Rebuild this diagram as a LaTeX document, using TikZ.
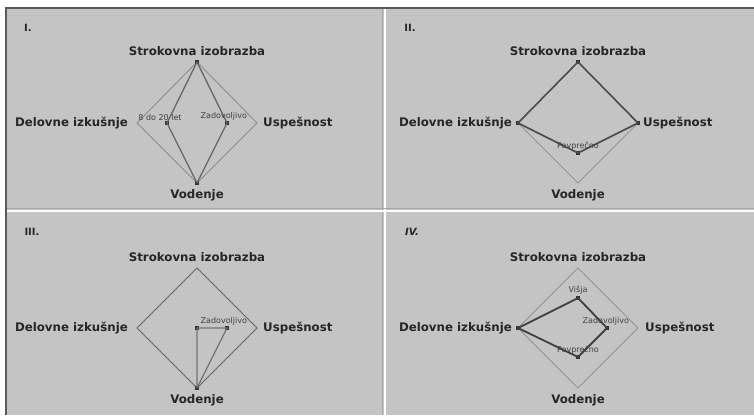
\documentclass[tikz,border=0pt]{standalone}
\usepackage{fontspec}
\setmainfont{DejaVu Sans}
\begin{document}
\begin{tikzpicture}[x=1pt,y=-1pt,
  axislab/.style={font=\fontsize{11.8}{13}\selectfont\bfseries, text=black!85, inner sep=1pt},
  panellab/.style={font=\fontsize{10}{11}\selectfont\bfseries, text=black!85, inner sep=0pt},
  vallab/.style={font=\fontsize{8}{9}\selectfont, text=black!75, inner sep=0.5pt},
  outerline/.style={draw=black!45, line width=0.9pt},
  outerdark/.style={draw=black!60, line width=0.8pt},
  dataline/.style={draw=black!70, line width=1.6pt, line join=round},
  gridline/.style={draw=black!25, line width=0.5pt, dotted},
  datapt/.style={fill=black!80, minimum size=3.5pt, inner sep=0pt, draw=none, rectangle}
]
% background and frame
\useasboundingbox (0,0) rectangle (754,415);
\fill[white] (0,0) rectangle (754,415);
\fill[black!23] (6,8) rectangle (754,415);
\draw[black!65, line width=1.2pt] (6,415) -- (6,8) -- (754,8);
\draw[white, line width=1.5pt] (385,9) -- (385,415);
\draw[black!35, line width=0.6pt] (382,9) -- (382,415);
\draw[white, line width=1.5pt] (7,211) -- (754,211);
\draw[black!35, line width=0.6pt] (7,208) -- (754,208);

% ---------------- Panel I ----------------
\node[panellab] (pI) at (28,28) {I.};
\coordinate (aT) at (197,62);
\coordinate (aB) at (197,183);
\coordinate (aL) at (137,123);
\coordinate (aR) at (257,123);
\draw[gridline] (aL) -- (aR) (aT) -- (aB);
\draw[outerline] (aT) -- (aR) -- (aB) -- (aL) -- cycle;
\node[datapt] (aPT) at (197,62) {};
\node[datapt] (aPR) at (227,123) {};
\node[datapt] (aPB) at (197,183) {};
\node[datapt] (aPL) at (167,123) {};
\draw[dataline, draw=black!60, line width=1.3pt] (aPT.center) -- (aPR.center) -- (aPB.center) -- (aPL.center) -- cycle;
\node[axislab, anchor=south] (aST) at (197,57) {Strokovna izobrazba};
\node[axislab, anchor=north] (aSB) at (197,188) {Vodenje};
\node[axislab, anchor=east] (aSL) at (129,123) {Delovne izkušnje};
\node[axislab, anchor=west] (aSR) at (262,123) {Uspešnost};
\node[vallab, anchor=south] (aVL) at (160,121) {8 do 20 let};
\node[vallab, anchor=south west] (aVR) at (200,121) {Zadovoljivo};

% ---------------- Panel II ----------------
\node[panellab] (pII) at (410,28) {II.};
\coordinate (bT) at (578,62);
\coordinate (bB) at (578,183);
\coordinate (bL) at (518,123);
\coordinate (bR) at (638,123);
\draw[gridline] (bL) -- (bR) (bT) -- (bB);
\draw[outerline, draw=black!42] (bT) -- (bR) -- (bB) -- (bL) -- cycle;
\node[datapt] (bPT) at (578,62) {};
\node[datapt] (bPR) at (638,123) {};
\node[datapt] (bPB) at (578,153) {};
\node[datapt] (bPL) at (518,123) {};
\draw[dataline] (bPT.center) -- (bPR.center) -- (bPB.center) -- (bPL.center) -- cycle;
\node[axislab, anchor=south] (bST) at (578,57) {Strokovna izobrazba};
\node[axislab, anchor=north] (bSB) at (578,188) {Vodenje};
\node[axislab, anchor=east] (bSL) at (513,123) {Delovne izkušnje};
\node[axislab, anchor=west] (bSR) at (642,123) {Uspešnost};
\node[vallab, anchor=south] (bVB) at (578,151) {Povprečno};

% ---------------- Panel III ----------------
\node[panellab] (pIII) at (32,232) {III.};
\coordinate (cT) at (197,268);
\coordinate (cB) at (197,388);
\coordinate (cL) at (137,328);
\coordinate (cR) at (257,328);
\draw[gridline] (cL) -- (cR) (cT) -- (cB);
\draw[outerdark] (cT) -- (cR) -- (cB) -- (cL) -- cycle;
\node[datapt] (cPC) at (197,328) {};
\node[datapt] (cPR) at (227,328) {};
\node[datapt] (cPB) at (197,388) {};
\draw[dataline, draw=black!55, line width=1.2pt] (cPC.center) -- (cPR.center) -- (cPB.center) -- cycle;
\node[axislab, anchor=south] (cST) at (197,263) {Strokovna izobrazba};
\node[axislab, anchor=north] (cSB) at (197,393) {Vodenje};
\node[axislab, anchor=east] (cSL) at (129,328) {Delovne izkušnje};
\node[axislab, anchor=west] (cSR) at (262,328) {Uspešnost};
\node[vallab, anchor=south west] (cVR) at (200,326) {Zadovoljivo};

% ---------------- Panel IV ----------------
\node[panellab, font=\fontsize{10}{11}\selectfont\bfseries\itshape] (pIV) at (412,232) {IV.};
\coordinate (dT) at (578,268);
\coordinate (dB) at (578,388);
\coordinate (dL) at (518,328);
\coordinate (dR) at (638,328);
\draw[gridline] (dL) -- (dR) (dT) -- (dB);
\draw[outerline, draw=black!42] (dT) -- (dR) -- (dB) -- (dL) -- cycle;
\node[datapt] (dPT) at (578,298) {};
\node[datapt] (dPR) at (607,328) {};
\node[datapt] (dPB) at (578,357) {};
\node[datapt] (dPL) at (518,328) {};
\draw[dataline, draw=black!75, line width=1.8pt] (dPT.center) -- (dPR.center) -- (dPB.center) -- (dPL.center) -- cycle;
\node[axislab, anchor=south] (dST) at (578,263) {Strokovna izobrazba};
\node[axislab, anchor=north] (dSB) at (578,393) {Vodenje};
\node[axislab, anchor=east] (dSL) at (513,328) {Delovne izkušnje};
\node[axislab, anchor=west] (dSR) at (644,328) {Uspešnost};
\node[vallab, anchor=south] (dVT) at (578,295) {Višja};
\node[vallab, anchor=south west] (dVR) at (582,326) {Zadovoljivo};
\node[vallab, anchor=south] (dVB) at (578,355) {Povprečno};
\end{tikzpicture}
\end{document}
